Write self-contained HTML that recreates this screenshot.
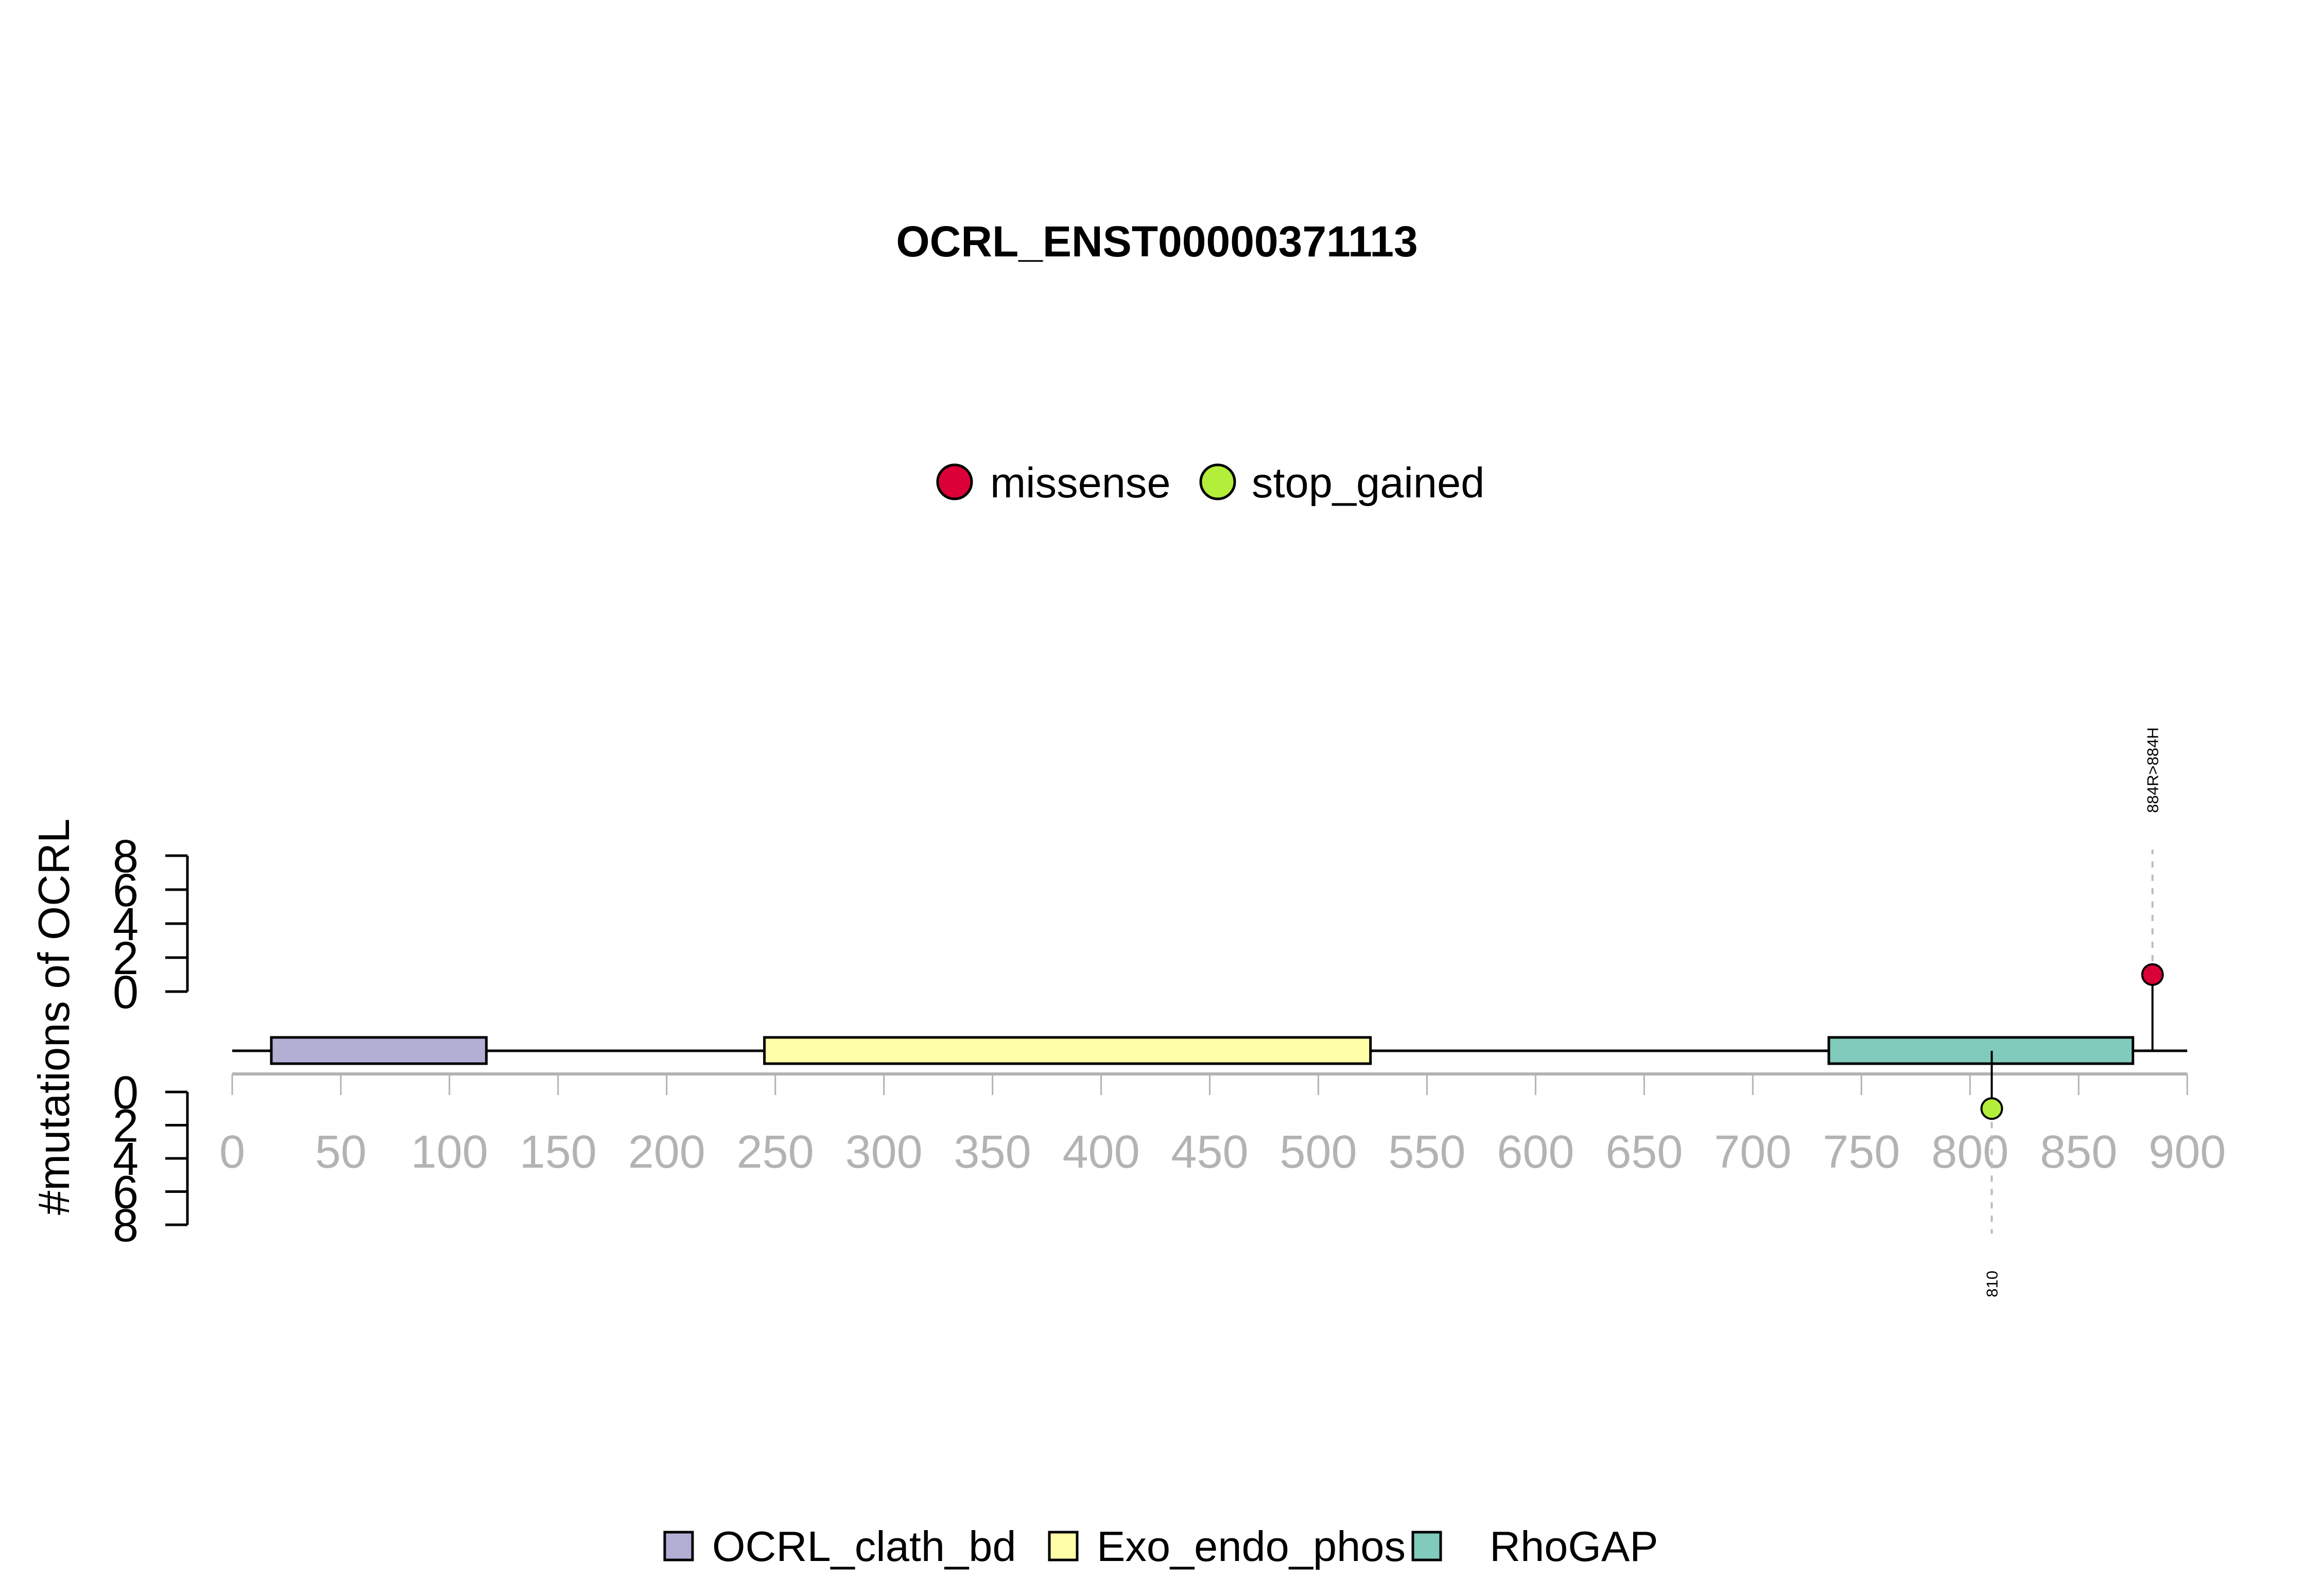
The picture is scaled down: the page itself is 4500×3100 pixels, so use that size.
<!DOCTYPE html>
<html><head><meta charset="utf-8"><style>html,body{margin:0;padding:0;background:#fff}svg{display:block}text{font-family:"Liberation Sans",Arial,sans-serif}</style></head>
<body>
<svg id="chart" width="4500" height="3100" viewBox="0 0 4500 3100" xmlns="http://www.w3.org/2000/svg">
<text x="2247" y="498" font-size="84" font-weight="bold" text-anchor="middle">OCRL_ENST00000371113</text>
<g>
<circle cx="1854" cy="936" r="33" fill="#dc0039" stroke="#000" stroke-width="5"/>
<text x="1923" y="966" font-size="83">missense</text>
<circle cx="2365" cy="936" r="33" fill="#b3ee3a" stroke="#000" stroke-width="5"/>
<text x="2431" y="966" font-size="83">stop_gained</text>
</g>
<text transform="translate(134,1975) rotate(-90)" font-size="85" text-anchor="middle">#mutations of OCRL</text>
<g id="plot"></g>
<g>
<rect x="1291" y="2976" width="54" height="54" fill="#b3aed3" stroke="#000" stroke-width="5"/>
<text x="1383" y="3032" font-size="83">OCRL_clath_bd</text>
<rect x="2038" y="2976" width="54" height="54" fill="#ffffa8" stroke="#000" stroke-width="5"/>
<text x="2130" y="3032" font-size="83">Exo_endo_phos</text>
<rect x="2744" y="2976" width="54" height="54" fill="#80cbbb" stroke="#000" stroke-width="5"/>
<text x="2893" y="3032" font-size="83">RhoGAP</text>
</g>
</svg>
<script>
const domainNames = ["OCRL_clath_bd","Exo_endo_phos","RhoGAP"];
const domainStarts = [18, 245, 735];
const domainEnds = [117, 524, 875];
const domainColors = ["#b3aed3","#ffffa8","#80cbbb"];
const mutPositions = [884, 810];
const mutCounts = [1, 1];
const mutTypes = ["missense","stop_gained"];
const mutLabels = ["884R>884H","810"];
const mutSide = ["up","down"];
const xTicks = [0,50,100,150,200,250,300,350,400,450,500,550,600,650,700,750,800,850,900];
const yTicks = [0,2,4,6,8];
const proteinLength = 900;

const NS="http://www.w3.org/2000/svg";
const g=document.getElementById('plot');
const x=v=>451+(v/900)*(4248-451);
const yUp=v=>1926-v*(1926-1662)/8;
const yDn=v=>2121+v*(2379-2121)/8;
const backboneY=2041;
function mk(t,a){const e=document.createElementNS(NS,t);for(const k in a)e.setAttribute(k,a[k]);g.appendChild(e);return e;}

let e=mk('line',{x1:x(0),x2:x(proteinLength),y1:backboneY,y2:backboneY,stroke:'#000','stroke-width':5});


domainNames.forEach((n,i)=>{
  const r=mk('rect',{x:x(domainStarts[i]),y:2015,width:x(domainEnds[i])-x(domainStarts[i]),height:51,fill:domainColors[i],stroke:'#000','stroke-width':5});
  
  
});
e=mk('line',{x1:x(0),x2:x(proteinLength),y1:2086,y2:2086,stroke:'#b3b3b3','stroke-width':6});


xTicks.forEach(t=>{
  const l=mk('line',{x1:x(t),x2:x(t),y1:2086,y2:2127,stroke:'#b3b3b3','stroke-width':3});
  
  
  const tx=mk('text',{x:x(t),y:2268,'font-size':90,'text-anchor':'middle',fill:'#b3b3b3'});
  tx.textContent=t;
  
  
});
[[yUp,'upper'],[yDn,'lower']].forEach(([f,nm])=>{
  const a=mk('line',{x1:364,x2:364,y1:f(0),y2:f(8),stroke:'#000','stroke-width':5});
  
  
  yTicks.forEach(t=>{
    const l=mk('line',{x1:321,x2:364,y1:f(t),y2:f(t),stroke:'#000','stroke-width':5});
    
    
    const tx=mk('text',{x:244,y:f(t)+32,'font-size':90,'text-anchor':'middle'});
    tx.textContent=t;
    
    
  });
});
mutPositions.forEach((p,i)=>{
  const up=mutSide[i]==='up';
  const py=up?yUp(mutCounts[i]):yDn(mutCounts[i]);
  const dEnd=up?1650:2396;
  const d=mk('line',{x1:x(p),x2:x(p),y1:py,y2:dEnd,stroke:'#bbb','stroke-width':4,'stroke-dasharray':'12,14'});
  
  
  const s=mk('line',{x1:x(p),x2:x(p),y1:backboneY,y2:py,stroke:'#000','stroke-width':4});
  
  
  const c=mk('circle',{cx:x(p),cy:py,r:20,fill:mutTypes[i]==='missense'?'#dc0039':'#b3ee3a',stroke:'#000','stroke-width':4});
  
  
  const ly=up?1579:2468;
  const tx=mk('text',{transform:`translate(${x(p)+11},${ly}) rotate(-90)`,'font-size':31,'text-anchor':up?'start':'end'});
  tx.textContent=mutLabels[i];
  
  
});
</script>
</body></html>
